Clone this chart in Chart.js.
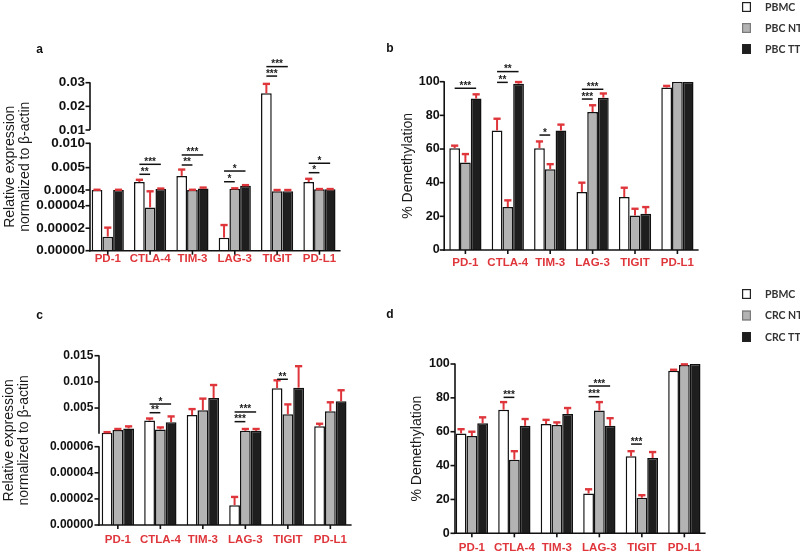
<!DOCTYPE html>
<html><head><meta charset="utf-8">
<script src="https://cdn.jsdelivr.net/npm/chart.js@4.4.1/dist/chart.umd.min.js"></script>
<style>
html,body{margin:0;padding:0;background:#fff;}
#wrap{position:relative;width:800px;height:555px;overflow:hidden;background:#fff;}
canvas{position:absolute;left:0;top:0;}
</style></head><body>
<div id="wrap">
<canvas id="pa" width="800" height="555"></canvas>
<canvas id="pb" width="800" height="555"></canvas>
<canvas id="pc" width="800" height="555"></canvas>
<canvas id="pd" width="800" height="555"></canvas>
</div>
<script>
// ---------- data ----------
const genes = ['PD-1','CTLA-4','TIM-3','LAG-3','TIGIT','PD-L1'];
const seriesB = ['PBMC','PBC NT','PBC TT'];
const seriesD = ['PBMC','CRC NT','CRC TT'];

// a: relative expression (breast cancer) ; "Upper" = top of error bar
const aPBMC      = [0.0004, 0.00204, 0.0033, 0.0000116, 0.0255, 0.00204];
const aPBMCUpper = [0.00045, 0.0025, 0.0046, 0.0000228, 0.0295, 0.0027];
const aNT        = [0.0000125, 0.0000385, 0.0004, 0.00066, 0.00037, 0.00054];
const aNTUpper   = [0.0000205, 0.00037, 0.00045, 0.00075, 0.0004, 0.0006];
const aTT        = [0.0004, 0.0006, 0.00073, 0.00125, 0.00037, 0.00054];
const aTTUpper   = [0.00045, 0.0007, 0.0009, 0.0014, 0.0004, 0.0006];
const aTickValues = [0, 0.00002, 0.00004, 0.0004, 0.005, 0.010, 0.01, 0.02, 0.03];
const aTickLabels = ['0.00000','0.00002','0.00004','0.0004','0.005','0.010','0.01','0.02','0.03'];
const aSig = [
  {gene:1, from:0, to:2, y:0.00568, text:'***'},
  {gene:1, from:0, to:1, y:0.00363, text:'**'},
  {gene:2, from:0, to:2, y:0.0076,  text:'***'},
  {gene:2, from:0, to:1, y:0.00554, text:'**'},
  {gene:3, from:0, to:2, y:0.0043,  text:'*'},
  {gene:3, from:0, to:1, y:0.0021,  text:'*'},
  {gene:4, from:0, to:2, y:0.0368,  text:'***'},
  {gene:4, from:0, to:1, y:0.0328,  text:'***'},
  {gene:5, from:0, to:2, y:0.0059,  text:'*'},
  {gene:5, from:0, to:1, y:0.00396, text:'*'}
];

// b: % demethylation (breast cancer)
const bPBMC      = [60.5, 71, 60.5, 34.5, 31.5, 96.5];
const bPBMCUpper = [62, 78, 64.5, 40, 37, 97.5];
const bNT        = [52, 25.5, 48, 82, 20.5, 100];
const bNTUpper   = [57, 29.5, 51, 86, 24.5, 100];
const bTT        = [90, 98.8, 71, 90.5, 21.5, 100];
const bTTUpper   = [92.5, 99.8, 74.5, 93, 25.5, 100];
const bSig = [
  {gene:0, from:0, to:2, y:96.1, text:'***'},
  {gene:1, from:0, to:2, y:106,  text:'**'},
  {gene:1, from:0, to:1, y:99.6, text:'**'},
  {gene:2, from:0, to:1, y:68.3, text:'*'},
  {gene:3, from:0, to:2, y:95.5, text:'***'},
  {gene:3, from:0, to:1, y:89.7, text:'***'}
];

// c: relative expression (colorectal cancer)
const cPBMC      = [0.0003, 0.0026, 0.00365, 0.0000152, 0.0088, 0.0015];
const cPBMCUpper = [0.0004, 0.003, 0.0048, 0.0000215, 0.0103, 0.002];
const cNT        = [0.0008, 0.0009, 0.0046, 0.00065, 0.0038, 0.0044];
const cNTUpper   = [0.001, 0.0013, 0.0068, 0.001, 0.0057, 0.0061];
const cTT        = [0.0011, 0.0023, 0.0069, 0.00065, 0.0089, 0.0063];
const cTTUpper   = [0.0015, 0.0034, 0.0094, 0.001, 0.013, 0.0084];
const cTickValues = [0, 0.00002, 0.00004, 0.00006, 0.005, 0.010, 0.015];
const cTickLabels = ['0.00000','0.00002','0.00004','0.00006','0.005','0.010','0.015'];
const cSig = [
  {gene:1, from:0, to:2, y:0.00577, text:'*'},
  {gene:1, from:0, to:1, y:0.00411, text:'**'},
  {gene:3, from:0, to:2, y:0.00425, text:'***'},
  {gene:3, from:0, to:1, y:0.0024,  text:'***'},
  {gene:4, from:0, to:1, y:0.0105,  text:'**'}
];

// d: % demethylation (colorectal cancer)
const dPBMC      = [59, 73, 64.5, 23.5, 45.5, 96];
const dPBMCUpper = [61.5, 77.5, 67, 26, 48.5, 96.6];
const dNT        = [57.5, 43.5, 64, 72.5, 21, 99.4];
const dNTUpper   = [60, 48.5, 65.5, 77.5, 22.5, 99.8];
const dTT        = [65, 63.5, 70.5, 63.5, 44.5, 100];
const dTTUpper   = [68.5, 67.5, 74, 68, 48, 100];
const dSig = [
  {gene:1, from:0, to:1, y:80.3, text:'***'},
  {gene:3, from:0, to:2, y:87,   text:'***'},
  {gene:3, from:0, to:1, y:80.7, text:'***'},
  {gene:4, from:0, to:1, y:52.7, text:'***'}
];

const pctTicks = [0, 20, 40, 60, 80, 100];

// ---------- styling / axis geometry ----------
const RED = '#df363b';
const FILLS = ['#ffffff', '#b3b3b3', '#1e1e1e'];
const FONT = "'Liberation Sans', Arial, Helvetica, sans-serif";
Chart.defaults.font.family = FONT;
Chart.defaults.color = '#111';

// segmented (broken) axes: knots of [value, fraction of axis height]
const AXES = {
  pa: { parts: [
          { knots: [[0,0],[0.00004,0.2679],[0.0004,0.3613],[0.010,0.6393]] },
          { knots: [[0.010,0.7185],[0.03,1]] } ],
        tickValues: aTickValues, tickParts: [0,0,0,0,0,0,1,1,1] },
  pc: { parts: [
          { knots: [[0,0],[0.00006,0.4625],[0.0001,0.5393],[0.015,1]] } ],
        tickValues: cTickValues, tickParts: [0,0,0,0,0,0,0] }
};

class BrokenScale extends Chart.LinearScale {
  static id = 'broken';
  static defaults = {};
  _ax() { return AXES[this.chart.canvas.id]; }
  _dec(v, p) {
    const parts = this._ax().parts;
    let part;
    if (p != null) part = parts[p];
    else part = parts.find(pt => v <= pt.knots[pt.knots.length - 1][0]) || parts[parts.length - 1];
    const k = part.knots;
    let i = 0;
    while (i < k.length - 2 && v > k[i + 1][0]) i++;
    const [v0, f0] = k[i], [v1, f1] = k[i + 1];
    return f0 + (v - v0) / (v1 - v0) * (f1 - f0);
  }
  buildTicks() { return this._ax().tickValues.map(v => ({ value: v })); }
  getPixelForValue(v) { return this.getPixelForDecimal(this._dec(v)); }
  getPixelForTick(i) {
    const t = this.ticks[i];
    if (!t) return null;
    return this.getPixelForDecimal(this._dec(t.value, this._ax().tickParts[i]));
  }
  getValueForPixel() { return 0; }
}
Chart.register(BrokenScale);

function decoPlugin(cfg) {
  return {
    id: 'deco',
    afterDraw(chart) {
      const ctx = chart.ctx, ca = chart.chartArea;
      const xs = chart.scales.x, ys = chart.scales.y;
      ctx.save();
      // error bars (upper only)
      chart.data.datasets.forEach((ds, di) => {
        const meta = chart.getDatasetMeta(di);
        meta.data.forEach((bar, i) => {
          const hi = ds.upper[i];
          if (hi == null || hi <= ds.data[i]) return;
          const yTop = ys.getPixelForValue(hi);
          ctx.strokeStyle = RED;
          ctx.lineWidth = 2;
          ctx.beginPath(); ctx.moveTo(bar.x, bar.y); ctx.lineTo(bar.x, yTop); ctx.stroke();
          ctx.lineWidth = 2.4;
          ctx.beginPath(); ctx.moveTo(bar.x - 3.6, yTop); ctx.lineTo(bar.x + 3.6, yTop); ctx.stroke();
        });
      });
      // axes
      ctx.strokeStyle = '#111';
      ctx.lineWidth = 1.6;
      const ax = cfg.axisX;
      cfg.axisParts.forEach(([f0, f1]) => {
        ctx.beginPath();
        ctx.moveTo(ax, ys.getPixelForDecimal(f0) + (f0 === 0 ? 0.8 : 0));
        ctx.lineTo(ax, ys.getPixelForDecimal(f1) - 0.5);
        ctx.stroke();
      });
      ys.ticks.forEach((t, i) => {
        const y = ys.getPixelForTick(i);
        ctx.beginPath(); ctx.moveTo(ax - 4.5, y); ctx.lineTo(ax, y); ctx.stroke();
      });
      ctx.beginPath(); ctx.moveTo(ax - 0.8, ca.bottom); ctx.lineTo(ca.right, ca.bottom); ctx.stroke();
      xs.ticks.forEach((t, i) => {
        const x = xs.getPixelForValue(i);
        ctx.beginPath(); ctx.moveTo(x, ca.bottom); ctx.lineTo(x, ca.bottom + 4); ctx.stroke();
      });
      // significance brackets
      ctx.lineWidth = 1.5;
      ctx.fillStyle = '#222';
      ctx.font = 'bold 10px ' + FONT;
      ctx.textAlign = 'center';
      ctx.textBaseline = 'alphabetic';
      cfg.sig.forEach(s => {
        const x0 = chart.getDatasetMeta(s.from).data[s.gene].x;
        const x1 = chart.getDatasetMeta(s.to).data[s.gene].x;
        const y = ys.getPixelForValue(s.y);
        ctx.beginPath(); ctx.moveTo(x0, y); ctx.lineTo(x1, y); ctx.stroke();
        ctx.fillText(s.text, (x0 + x1) / 2, y + 0.5);
      });
      // panel letter
      ctx.fillStyle = '#111';
      ctx.font = 'bold 12px ' + FONT;
      ctx.textBaseline = 'middle';
      ctx.fillText(cfg.letter[0], cfg.letter[1], cfg.letter[2]);
      // legend
      if (cfg.legend) {
        const L = cfg.legend;
        chart.data.datasets.forEach((ds, i) => {
          const cy = L.y[i];
          ctx.fillStyle = ds.backgroundColor;
          ctx.fillRect(L.x, cy - 5, 9, 10);
          ctx.strokeStyle = i === 1 ? '#7a7a7a' : '#222';
          ctx.lineWidth = 1.2;
          ctx.strokeRect(L.x + 0.6, cy - 4.4, 7.8, 8.8);
          ctx.fillStyle = '#333';
          ctx.font = 'bold 10.5px Lato, ' + FONT;
          ctx.textAlign = 'left';
          ctx.textBaseline = 'middle';
          ctx.fillText(ds.label, L.textX, cy + 0.5);
        });
      }
      ctx.restore();
    }
  };
}

function makeChart(id, p) {
  return new Chart(document.getElementById(id), {
    type: 'bar',
    data: {
      labels: genes,
      datasets: p.series.map((name, k) => ({
        label: name, data: p.values[k], upper: p.uppers[k],
        backgroundColor: FILLS[k], borderColor: '#111', borderWidth: 1.5,
        borderSkipped: 'start', categoryPercentage: 0.76, barPercentage: 1.0
      }))
    },
    options: {
      responsive: false, animation: false, events: [],
      layout: { padding: p.pad, autoPadding: false },
      plugins: { legend: { display: false }, tooltip: { enabled: false }, title: { display: false } },
      scales: {
        x: {
          type: 'category', offset: true,
          grid: { display: false, drawTicks: false }, border: { display: false },
          ticks: { color: RED, font: { weight: 'bold', size: 11.5 }, padding: p.xPad, maxRotation: 0, autoSkip: false },
          afterFit(s) { s.height = 20; s.paddingLeft = 0; s.paddingRight = 0; }
        },
        y: Object.assign({
          grid: { display: false, drawTicks: false }, border: { display: false },
          afterFit(s) { s.width = p.yWidth; s.paddingTop = 0; s.paddingBottom = 0; }
        }, p.y)
      }
    },
    plugins: [decoPlugin(p.deco)]
  });
}

const exprTitle = { display: true, text: ['Relative expression', 'normalized to β-actin'],
  font: { size: 14, lineHeight: 1.1 }, color: '#1a1a1a', padding: { top: 2, bottom: 0 } };
const pctTitle = { display: true, text: '% Demethylation',
  font: { size: 14, lineHeight: 1.2 }, color: '#1a1a1a', padding: { top: 0, bottom: 0 } };

makeChart('pa', {
  series: seriesB, values: [aPBMC, aNT, aTT], uppers: [aPBMCUpper, aNTUpper, aTTUpper],
  pad: { left: 0, top: 82.7, right: 459.4, bottom: 284.3 }, yWidth: 86.6, xPad: 1,
  y: { type: 'broken', min: 0, max: 0.03,
       ticks: { autoSkip: false, padding: 1.6, color: '#111', font: { weight: 'bold', size: 13.5 },
                callback: (v, i) => aTickLabels[i] },
       title: exprTitle },
  deco: { axisX: 90, axisParts: [[0, 0.6393], [0.7185, 1]], sig: aSig, letter: ['a', 39.5, 49.5] }
});

makeChart('pb', {
  series: seriesB, values: [bPBMC, bNT, bTT], uppers: [bPBMCUpper, bNTUpper, bTTUpper],
  pad: { left: 399.9, top: 81.7, right: 101.4, bottom: 285 }, yWidth: 44.3, xPad: 6,
  y: { type: 'linear', min: 0, max: 100,
       afterBuildTicks(s) { s.ticks = pctTicks.map(v => ({ value: v })); },
       ticks: { autoSkip: false, padding: 4.5, color: '#111', font: { weight: 'bold', size: 12.5 } },
       title: pctTitle },
  deco: { axisX: 444.2, axisParts: [[0, 1]], sig: bSig, letter: ['b', 390, 49],
          legend: { x: 742, y: [7, 28, 49], textX: 765 } }
});

makeChart('pc', {
  series: seriesD, values: [cPBMC, cNT, cTT], uppers: [cPBMCUpper, cNTUpper, cTTUpper],
  pad: { left: 0, top: 355.7, right: 448.4, bottom: 10 }, yWidth: 96.6, xPad: 7.5,
  y: { type: 'broken', min: 0, max: 0.015,
       ticks: { autoSkip: false, padding: 3.3, color: '#111', font: { weight: 'bold', size: 12 },
                callback: (v, i) => cTickLabels[i] },
       title: Object.assign({}, exprTitle, { padding: { top: 1, bottom: 0 } }) },
  deco: { axisX: 99, axisParts: [[0, 0.4625], [0.5393, 1]], sig: cSig, letter: ['c', 39.5, 315.5] }
});

makeChart('pd', {
  series: seriesD, values: [dPBMC, dNT, dTT], uppers: [dPBMCUpper, dNTUpper, dTTUpper],
  pad: { left: 408.3, top: 364, right: 94.4, bottom: 1.7 }, yWidth: 42.3, xPad: 8,
  y: { type: 'linear', min: 0, max: 100,
       afterBuildTicks(s) { s.ticks = pctTicks.map(v => ({ value: v })); },
       ticks: { autoSkip: false, padding: 0.8, color: '#111', font: { weight: 'bold', size: 12.5 } },
       title: pctTitle },
  deco: { axisX: 455, axisParts: [[0, 1]], sig: dSig, letter: ['d', 390, 315],
          legend: { x: 742, y: [294, 315.5, 337], textX: 765 } }
});
</script>
</body></html>
